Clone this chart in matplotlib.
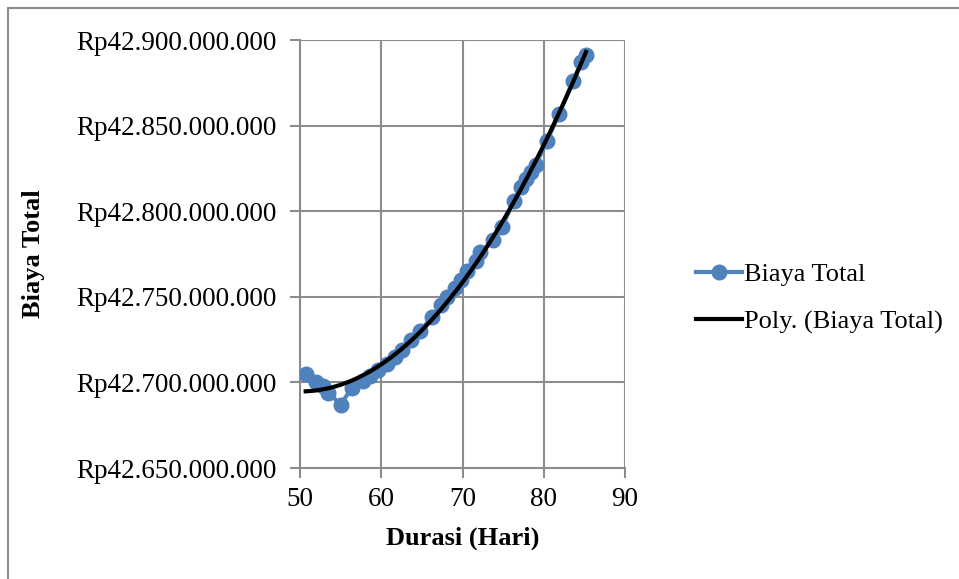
import matplotlib
matplotlib.use("Agg")
import matplotlib.pyplot as plt
from matplotlib.patches import Rectangle
from matplotlib.ticker import FuncFormatter
import numpy as np

plt.rcParams['font.family'] = ['Liberation Serif', 'DejaVu Serif']

# data
durasi = [50.7, 52.0, 52.8, 53.5, 55.0, 56.4, 57.8, 58.6, 59.6, 60.7, 61.7,
          62.6, 63.6, 64.8, 66.2, 67.3, 68.1, 69.1, 69.8, 70.5, 71.6, 72.2,
          73.8, 74.9, 76.3, 77.2, 77.8, 78.4, 79.0, 80.4, 81.9, 83.6, 84.6, 85.2]
biaya = [42.705, 42.700, 42.698, 42.694, 42.687, 42.697, 42.701, 42.704,
         42.707, 42.711, 42.715, 42.719, 42.725, 42.730, 42.738, 42.745,
         42.750, 42.755, 42.760, 42.765, 42.771, 42.776, 42.783, 42.791,
         42.806, 42.814, 42.819, 42.823, 42.827, 42.841, 42.857, 42.876,
         42.887, 42.891]
biaya = [b * 1e9 for b in biaya]

x_ticks = [50, 60, 70, 80, 90]
y_ticks = [42.65e9, 42.70e9, 42.75e9, 42.80e9, 42.85e9, 42.90e9]

blue = '#4F81BD'
grid_c = '#8C8C8C'

fig = plt.figure(figsize=(9.59, 5.79), dpi=100)
ax = fig.add_axes([300 / 959, 1 - 468 / 579, 325 / 959, 428 / 579])

ax.plot(durasi, biaya, '-o', color=blue, lw=3, markersize=10.5,
        label='Biaya Total', zorder=3)

coef = np.polyfit(durasi, biaya, 2)
xf = np.linspace(min(durasi), max(durasi), 200)
ax.plot(xf, np.polyval(coef, xf), color='black', lw=3,
        label='Poly. (Biaya Total)', zorder=4)

ax.set_xlim(50, 90)
ax.set_ylim(42.65e9, 42.90e9)
ax.set_xticks(x_ticks)
ax.set_yticks(y_ticks)


def rp(v, pos):
    s = f"{int(round(v)):,}".replace(',', '.')
    return 'Rp' + s


ax.yaxis.set_major_formatter(FuncFormatter(rp))
ax.tick_params(labelsize=19.5, colors=grid_c, labelcolor='black',
               length=7, width=1.5)
ax.tick_params(axis='x', pad=7)
ax.tick_params(axis='y', pad=10)
ax.grid(True, color=grid_c, lw=1.5)
ax.set_axisbelow(True)
for side in ['top', 'right']:
    ax.spines[side].set_visible(False)
for side in ['left', 'bottom']:
    ax.spines[side].set_color(grid_c)
    ax.spines[side].set_linewidth(1.5)

ax.set_xlabel('Durasi (Hari)', fontsize=19, fontweight='bold', labelpad=10)
ax.set_ylabel('Biaya Total', fontsize=19, fontweight='bold', labelpad=22)

fig.legend(loc='center left', bbox_to_anchor=(685 / 959, 1 - 298 / 579),
           frameon=False, fontsize=19, handlelength=1.75, handletextpad=0.1,
           labelspacing=0.9, borderaxespad=0)

fig.patches.append(Rectangle((8 / 959, -0.1), 1.2, 1 - 8 / 579 + 0.1,
                             transform=fig.transFigure, fill=False,
                             edgecolor='#8C8C8C', lw=1.5))

fig.savefig('out.png', dpi=100)
